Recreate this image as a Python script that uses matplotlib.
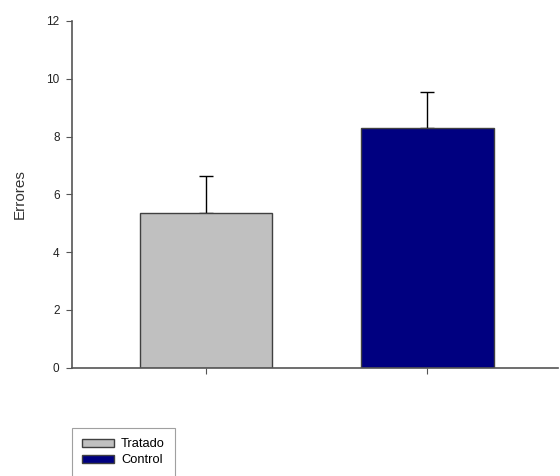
import matplotlib
matplotlib.use("Agg")
import matplotlib.pyplot as plt
import numpy as np

# values
groups = ["Tratado", "Control"]
means = [5.34, 8.30]
errors = [1.30, 1.23]
colors = ["#c0c0c0", "#000080"]

plt.rcParams['font.family'] = ['Liberation Sans', 'DejaVu Sans']

fig = plt.figure(figsize=(5.6, 4.76), dpi=100)
ax = fig.add_axes([0.1286, 0.2275, 0.8674, 0.7284])

x = np.arange(len(groups))
bars = ax.bar(x, means, width=0.6, color=colors, edgecolor="#404040",
              linewidth=1.0, label=groups, zorder=2)
ax.errorbar(x, means, yerr=[np.zeros(len(errors)), errors], fmt="none",
            ecolor="black", elinewidth=1.0, capsize=5, capthick=1.0, zorder=1)

ax.set_xlim(-0.606, 1.59)
ax.set_ylim(0, 12)
ax.set_yticks(np.arange(0, 13, 2))
ax.set_xticks(x)
ax.set_xticklabels([])
ax.set_ylabel("Errores", fontsize=11, color="#333333", labelpad=14)

for side in ["top", "right"]:
    ax.spines[side].set_visible(False)
for side in ["left", "bottom"]:
    ax.spines[side].set_color("#555555")
    ax.spines[side].set_linewidth(1.2)
ax.tick_params(axis="both", direction="out", length=4, color="#555555",
               labelsize=8.5, labelcolor="#222222", pad=5)

leg = fig.legend(handles=list(bars), labels=groups, loc="upper left",
                 bbox_to_anchor=(0.1286, 0.101), fontsize=9.3, frameon=True,
                 fancybox=False, edgecolor="#888888", handlelength=2.45,
                 handleheight=0.6, labelspacing=0.32, borderpad=0.8,
                 handletextpad=0.55, borderaxespad=0)
leg.get_frame().set_linewidth(0.8)

fig.savefig("out.png", dpi=100)
